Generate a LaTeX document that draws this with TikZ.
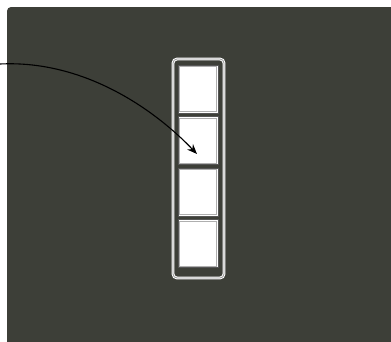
\documentclass[tikz,border=0pt]{standalone}
\usetikzlibrary{arrows.meta,calc}
\definecolor{panel}{RGB}{61,63,56}
\definecolor{rim}{RGB}{150,150,150}
\definecolor{celledge}{RGB}{85,85,85}
\definecolor{cellinner}{RGB}{175,175,175}
\tikzset{
  framebox/.style={draw=white, line width=2.8pt, rounded corners=4pt, minimum width=51pt, minimum height=219pt, inner sep=0pt},
  framerim/.style={draw=rim, line width=0.8pt, rounded corners=4pt, minimum width=51pt, minimum height=219pt, inner sep=0pt},
  cellbox/.style={draw=celledge, fill=white, line width=0.9pt, minimum width=40pt, minimum height=48pt, inner sep=0pt,
    path picture={\draw[cellinner, line width=0.8pt] ([shift={(1.4pt,-1.4pt)}]path picture bounding box.north west) rectangle ([shift={(-1.4pt,1.4pt)}]path picture bounding box.south east);}},
  link/.style={draw=black, line width=1.1pt, -{Stealth[length=10pt,width=8pt]}}
}
\begin{document}
\begin{tikzpicture}[x=1pt,y=-1pt]
\useasboundingbox (0,0) rectangle (391,341);
\clip (0,0) rectangle (391,341);
\fill[white] (0,0) rectangle (391,341);
\fill[panel, rounded corners=4pt] (7,7) rectangle (400,350);
\node[framebox] (frame) at (198.5,168.5) {};
\node[framerim] (framer) at (198.5,168.5) {};
\node[cellbox] (c1) at (198,89) {};
\node[cellbox] (c2) at (198,140.5) {};
\node[cellbox] (c3) at (198,192) {};
\node[cellbox] (c4) at (198,243.5) {};
\coordinate (src) at (0,64);
\coordinate (tip) at ($(c2.center)+(-1,13.5)$);
\draw[link] (src) .. controls (80,60) and (150,105) .. (tip);
\end{tikzpicture}
\end{document}
